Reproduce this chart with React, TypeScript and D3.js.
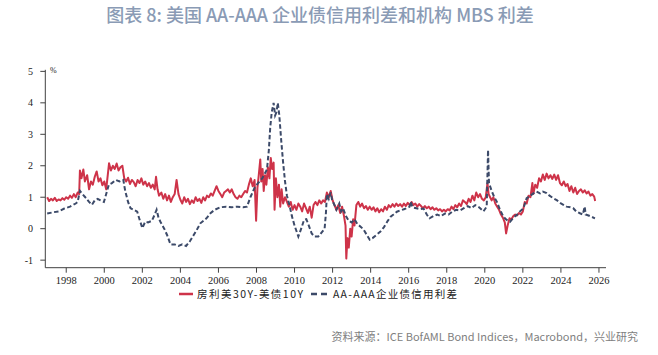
import React from "react";
import * as d3 from "d3";

const W = 658;
const H = 355;

const titleText = "图表 8: 美国 AA-AAA 企业债信用利差和机构 MBS 利差";
const sourceText = "资料来源：ICE BofAML Bond Indices，Macrobond，兴业研究";
const legendLabels = ["房利美30Y-美债10Y", "AA-AAA企业债信用利差"];
const xTicks = [1998, 2000, 2002, 2004, 2006, 2008, 2010, 2012, 2014, 2016, 2018, 2020, 2022, 2024, 2026];
const yTicks = [-1, 0, 1, 2, 3, 4, 5];

// Fannie Mae 30Y MBS - UST 10Y (year, %)
const mbsSpread: [number, number][] = [
  [1997.0, 1.0], [1997.1, 0.88], [1997.2, 0.95], [1997.3, 0.9], [1997.4, 0.98], [1997.5, 0.88], [1997.6, 0.93], [1997.7, 0.9],
  [1997.8, 0.97], [1997.9, 0.92], [1998.0, 1.0], [1998.1, 0.95], [1998.2, 1.05], [1998.3, 0.98], [1998.4, 1.1], [1998.5, 1.0],
  [1998.6, 1.15], [1998.68, 1.1], [1998.72, 1.85], [1998.8, 1.6], [1998.9, 1.88], [1998.98, 1.5], [1999.1, 1.7], [1999.2, 1.25],
  [1999.3, 1.5], [1999.4, 1.4], [1999.5, 1.65], [1999.6, 1.82], [1999.7, 1.5], [1999.8, 1.6], [1999.9, 1.38], [2000.0, 1.5],
  [2000.1, 1.25], [2000.2, 1.8], [2000.25, 2.08], [2000.35, 1.85], [2000.45, 2.0], [2000.55, 1.9], [2000.65, 2.07], [2000.75, 1.85],
  [2000.85, 1.95], [2000.95, 2.0], [2001.05, 1.6], [2001.15, 1.5], [2001.25, 1.62], [2001.35, 1.42], [2001.45, 1.55], [2001.55, 1.48],
  [2001.65, 1.35], [2001.75, 1.55], [2001.85, 1.45], [2001.95, 1.6], [2002.05, 1.4], [2002.15, 1.5], [2002.25, 1.35], [2002.35, 1.45],
  [2002.45, 1.3], [2002.55, 1.4], [2002.65, 1.25], [2002.72, 1.65], [2002.8, 1.25], [2002.88, 1.05], [2003.0, 1.15], [2003.1, 0.95],
  [2003.2, 1.1], [2003.3, 0.9], [2003.4, 1.05], [2003.5, 0.85], [2003.6, 1.0], [2003.7, 1.1], [2003.8, 1.55], [2003.9, 1.1],
  [2004.0, 0.92], [2004.1, 0.8], [2004.2, 1.0], [2004.3, 0.85], [2004.4, 0.95], [2004.5, 0.78], [2004.6, 0.9], [2004.7, 0.82],
  [2004.8, 1.0], [2004.9, 0.88], [2005.0, 0.95], [2005.1, 0.82], [2005.2, 1.0], [2005.3, 0.9], [2005.4, 1.05], [2005.5, 1.0],
  [2005.6, 1.12], [2005.7, 1.05], [2005.8, 1.2], [2005.9, 1.35], [2006.0, 1.2], [2006.1, 1.1], [2006.2, 1.0], [2006.3, 1.15],
  [2006.4, 1.2], [2006.5, 1.25], [2006.6, 1.15], [2006.7, 1.25], [2006.8, 1.1], [2006.9, 1.0], [2007.0, 0.95], [2007.1, 1.05],
  [2007.2, 1.0], [2007.3, 1.1], [2007.4, 1.2], [2007.5, 1.15], [2007.6, 1.4], [2007.7, 1.6], [2007.8, 1.35], [2007.9, 1.55],
  [2007.98, 0.25], [2008.05, 1.3], [2008.12, 1.7], [2008.2, 2.2], [2008.25, 1.5], [2008.32, 1.9], [2008.38, 1.2], [2008.45, 1.7],
  [2008.52, 1.4], [2008.6, 1.95], [2008.68, 1.6], [2008.75, 2.25], [2008.82, 1.9], [2008.9, 2.1], [2008.95, 0.6], [2009.02, 1.6],
  [2009.1, 1.0], [2009.18, 1.4], [2009.25, 0.7], [2009.32, 1.25], [2009.4, 0.8], [2009.5, 1.0], [2009.6, 0.85], [2009.7, 0.7],
  [2009.8, 0.85], [2009.9, 0.6], [2010.0, 0.75], [2010.1, 0.6], [2010.2, 0.8], [2010.3, 0.7], [2010.4, 0.55], [2010.5, 0.8],
  [2010.6, 0.65], [2010.7, 0.5], [2010.8, 0.7], [2010.9, 0.35], [2011.0, 0.75], [2011.1, 0.85], [2011.2, 0.75], [2011.3, 0.9],
  [2011.4, 0.8], [2011.5, 0.9], [2011.6, 0.85], [2011.7, 1.15], [2011.8, 1.0], [2011.9, 1.2], [2012.0, 0.9], [2012.1, 0.75],
  [2012.2, 0.6], [2012.3, 0.75], [2012.4, 0.5], [2012.5, 0.7], [2012.6, 0.4], [2012.68, 0.1], [2012.72, -0.95], [2012.78, -0.3],
  [2012.85, -0.6], [2012.93, 0.0], [2013.0, -0.25], [2013.08, 0.3], [2013.15, 0.1], [2013.25, 0.75], [2013.35, 0.85], [2013.45, 0.7],
  [2013.55, 0.8], [2013.65, 0.65], [2013.75, 0.72], [2013.85, 0.6], [2013.95, 0.7], [2014.05, 0.6], [2014.15, 0.68], [2014.25, 0.55],
  [2014.35, 0.65], [2014.45, 0.52], [2014.55, 0.62], [2014.65, 0.55], [2014.75, 0.7], [2014.85, 0.6], [2014.95, 0.75], [2015.05, 0.68],
  [2015.15, 0.78], [2015.25, 0.7], [2015.35, 0.8], [2015.45, 0.72], [2015.55, 0.78], [2015.65, 0.7], [2015.75, 0.8], [2015.85, 0.72],
  [2015.95, 0.82], [2016.05, 0.75], [2016.15, 0.85], [2016.25, 0.75], [2016.35, 0.8], [2016.45, 0.7], [2016.55, 0.78], [2016.65, 0.72],
  [2016.75, 0.65], [2016.85, 0.72], [2016.95, 0.65], [2017.05, 0.7], [2017.15, 0.62], [2017.25, 0.68], [2017.35, 0.6], [2017.45, 0.65],
  [2017.55, 0.58], [2017.65, 0.62], [2017.75, 0.55], [2017.85, 0.6], [2017.95, 0.55], [2018.05, 0.62], [2018.15, 0.58], [2018.25, 0.7],
  [2018.35, 0.62], [2018.45, 0.75], [2018.55, 0.68], [2018.65, 0.8], [2018.75, 0.72], [2018.85, 0.9], [2018.95, 0.85], [2019.05, 0.78],
  [2019.15, 0.95], [2019.25, 0.85], [2019.35, 1.05], [2019.45, 0.9], [2019.55, 1.15], [2019.65, 1.0], [2019.75, 1.1], [2019.85, 0.95],
  [2019.95, 0.9], [2020.05, 1.0], [2020.14, 1.45], [2020.2, 1.1], [2020.28, 1.0], [2020.36, 0.9], [2020.45, 1.0], [2020.55, 0.8],
  [2020.65, 0.7], [2020.75, 0.6], [2020.85, 0.45], [2020.95, 0.35], [2021.05, 0.2], [2021.12, -0.15], [2021.2, 0.1], [2021.3, 0.33],
  [2021.4, 0.3], [2021.5, 0.4], [2021.6, 0.45], [2021.7, 0.42], [2021.8, 0.5], [2021.9, 0.45], [2022.0, 0.55], [2022.1, 0.85],
  [2022.2, 0.8], [2022.3, 1.05], [2022.4, 1.0], [2022.5, 1.45], [2022.55, 1.1], [2022.65, 1.4], [2022.75, 1.3], [2022.85, 1.6],
  [2022.95, 1.5], [2023.05, 1.72], [2023.15, 1.55], [2023.25, 1.75], [2023.35, 1.6], [2023.45, 1.7], [2023.55, 1.58], [2023.65, 1.72],
  [2023.75, 1.55], [2023.85, 1.7], [2023.95, 1.45], [2024.05, 1.38], [2024.15, 1.5], [2024.25, 1.35], [2024.35, 1.42], [2024.45, 1.2],
  [2024.55, 1.35], [2024.65, 1.15], [2024.75, 1.3], [2024.85, 1.1], [2024.95, 1.2], [2025.05, 1.25], [2025.15, 1.15], [2025.25, 1.22],
  [2025.35, 1.12], [2025.45, 1.18], [2025.55, 1.05], [2025.65, 1.1], [2025.75, 1.02], [2025.8, 0.88],
];

// AA-AAA corporate credit spread (year, %)
const creditSpread: [number, number][] = [
  [1997.0, 0.48], [1997.3, 0.52], [1997.6, 0.55], [1997.9, 0.64], [1998.2, 0.7], [1998.5, 0.8], [1998.6, 0.85], [1998.72, 1.2],
  [1998.85, 1.1], [1999.0, 1.0], [1999.2, 0.85], [1999.35, 0.76], [1999.5, 0.9], [1999.65, 0.95], [1999.8, 0.9], [1999.98, 0.85],
  [2000.1, 1.1], [2000.24, 1.4], [2000.4, 1.45], [2000.6, 1.55], [2000.8, 1.5], [2001.0, 1.55], [2001.1, 1.2], [2001.25, 0.85],
  [2001.38, 0.65], [2001.55, 0.6], [2001.73, 0.54], [2001.85, 0.3], [2002.0, 0.02], [2002.15, 0.22], [2002.3, 0.2], [2002.5, 0.25],
  [2002.65, 0.45], [2002.75, 0.6], [2002.85, 0.35], [2002.95, 0.22], [2003.15, 0.0], [2003.3, -0.2], [2003.48, -0.5], [2003.7, -0.5],
  [2003.9, -0.55], [2004.1, -0.5], [2004.3, -0.55], [2004.5, -0.4], [2004.7, -0.2], [2004.85, -0.05], [2005.05, 0.17], [2005.37, 0.33],
  [2005.58, 0.49], [2005.8, 0.6], [2006.1, 0.68], [2006.4, 0.7], [2006.7, 0.68], [2007.0, 0.7], [2007.3, 0.68], [2007.5, 0.7],
  [2007.68, 1.0], [2007.9, 1.3], [2008.1, 1.46], [2008.3, 1.6], [2008.55, 1.88], [2008.65, 2.5], [2008.72, 3.2], [2008.8, 3.7],
  [2008.9, 4.0], [2008.98, 3.6], [2009.05, 3.7], [2009.12, 4.0], [2009.2, 3.6], [2009.3, 2.8], [2009.4, 2.1], [2009.5, 1.5],
  [2009.6, 1.05], [2009.75, 0.7], [2009.86, 0.4], [2010.0, 0.1], [2010.2, -0.25], [2010.35, 0.0], [2010.5, 0.28], [2010.62, 0.3],
  [2010.75, 0.1], [2010.9, -0.15], [2011.05, -0.25], [2011.25, -0.25], [2011.45, -0.1], [2011.58, 0.0], [2011.65, 0.5], [2011.7, 1.1],
  [2011.8, 0.95], [2011.9, 1.15], [2011.98, 0.9], [2012.1, 0.75], [2012.2, 0.6], [2012.35, 0.8], [2012.45, 0.55], [2012.55, 0.65],
  [2012.7, 0.4], [2012.85, 0.25], [2013.0, 0.2], [2013.15, 0.3], [2013.3, 0.15], [2013.5, 0.05], [2013.65, -0.05], [2013.8, -0.2],
  [2013.95, -0.35], [2014.1, -0.3], [2014.3, -0.2], [2014.5, -0.1], [2014.7, 0.05], [2014.9, 0.25], [2015.05, 0.38], [2015.2, 0.45],
  [2015.38, 0.54], [2015.55, 0.58], [2015.75, 0.62], [2015.9, 0.65], [2016.05, 0.7], [2016.1, 0.86], [2016.2, 0.68], [2016.4, 0.65],
  [2016.6, 0.62], [2016.78, 0.64], [2016.95, 0.45], [2017.1, 0.33], [2017.3, 0.4], [2017.5, 0.45], [2017.7, 0.4], [2017.9, 0.48],
  [2018.1, 0.45], [2018.3, 0.55], [2018.5, 0.6], [2018.7, 0.58], [2018.9, 0.65], [2019.1, 0.72], [2019.3, 0.65], [2019.5, 0.75],
  [2019.7, 0.68], [2019.93, 0.55], [2020.1, 0.7], [2020.17, 2.5], [2020.22, 1.45], [2020.36, 1.2], [2020.5, 1.0], [2020.63, 0.86],
  [2020.8, 0.6], [2020.98, 0.38], [2021.15, 0.28], [2021.33, 0.22], [2021.5, 0.35], [2021.67, 0.43], [2021.85, 0.55], [2022.03, 0.65],
  [2022.2, 0.97], [2022.4, 1.05], [2022.55, 1.12], [2022.72, 1.18], [2022.9, 1.12], [2023.05, 1.18], [2023.25, 1.13], [2023.4, 1.05],
  [2023.6, 0.97], [2023.8, 0.9], [2024.0, 0.8], [2024.13, 0.76], [2024.3, 0.7], [2024.5, 0.68], [2024.65, 0.65], [2024.8, 0.55],
  [2025.0, 0.49], [2025.15, 0.45], [2025.25, 0.7], [2025.3, 0.45], [2025.45, 0.42], [2025.6, 0.38], [2025.79, 0.33],
];

const RED = "#CE3349";
const NAVY = "#3C4A69";
const AXIS = "#404040";
const TICK_FONT = "'Liberation Serif', 'DejaVu Serif', serif";
const CJK_FONT = "'Noto Sans CJK SC', 'Noto Sans', sans-serif";

export default function App() {
  const x = d3.scaleLinear().domain([1996.9, 2026.37]).range([45.3, 606]);
  const y = d3.scaleLinear().domain([-1.24, 5.05]).range([267.7, 69.8]);
  const line = d3
    .line<[number, number]>()
    .x((d) => x(d[0]))
    .y((d) => y(d[1]));

  const x0 = x.range()[0];
  const yBottom = y.range()[0];

  return (
    <svg width={W} height={H} style={{ position: "absolute", left: 0, top: 0, background: "#fff" }}>
      <text x={320} y={22} textAnchor="middle" fontFamily={CJK_FONT} fontWeight={500} fontSize={18} fill="#8A9BB5">
        {titleText}
      </text>

      <path d={line(mbsSpread) || ""} fill="none" stroke={RED} strokeWidth={2} strokeLinejoin="round" />
      <path d={line(creditSpread) || ""} fill="none" stroke={NAVY} strokeWidth={2} strokeDasharray="4.5,2.5" />

      {/* y axis */}
      <line x1={x0} x2={x0} y1={y.range()[1]} y2={yBottom} stroke={AXIS} strokeWidth={1} />
      {yTicks.map((t) => (
        <g key={t}>
          <line x1={x0 - 5} x2={x0} y1={y(t)} y2={y(t)} stroke={AXIS} strokeWidth={1} />
          <text x={33} y={y(t) + 3.5} textAnchor="end" fontFamily={TICK_FONT} fontSize={10} fill="#222">
            {t}
          </text>
        </g>
      ))}
      <text x={50} y={73} fontFamily={TICK_FONT} fontSize={8} fill="#222">%</text>

      {/* x axis */}
      <line x1={x0} x2={x.range()[1]} y1={yBottom} y2={yBottom} stroke={AXIS} strokeWidth={1} />
      {xTicks.map((t) => (
        <g key={t}>
          <line x1={x(t)} x2={x(t)} y1={yBottom} y2={yBottom + 5} stroke={AXIS} strokeWidth={1} />
          <text x={x(t)} y={284.3} textAnchor="middle" fontFamily={TICK_FONT} fontSize={10.5} fill="#222">
            {t}
          </text>
        </g>
      ))}

      {/* legend */}
      <line x1={179} x2={193} y1={294} y2={294} stroke={RED} strokeWidth={2.5} />
      <text x={197} y={297.5} fontFamily={CJK_FONT} fontSize={10.5} fill="#222" textLength={106} lengthAdjust="spacing">
        {legendLabels[0]}
      </text>
      <line x1={311} x2={330} y1={294} y2={294} stroke={NAVY} strokeWidth={2.5} strokeDasharray="6,4" />
      <text x={333} y={297.5} fontFamily={CJK_FONT} fontSize={10.5} fill="#222" textLength={124} lengthAdjust="spacing">
        {legendLabels[1]}
      </text>

      <text x={638} y={340.5} textAnchor="end" fontFamily={CJK_FONT} fontSize={11} fill="#808080">
        {sourceText}
      </text>
    </svg>
  );
}
